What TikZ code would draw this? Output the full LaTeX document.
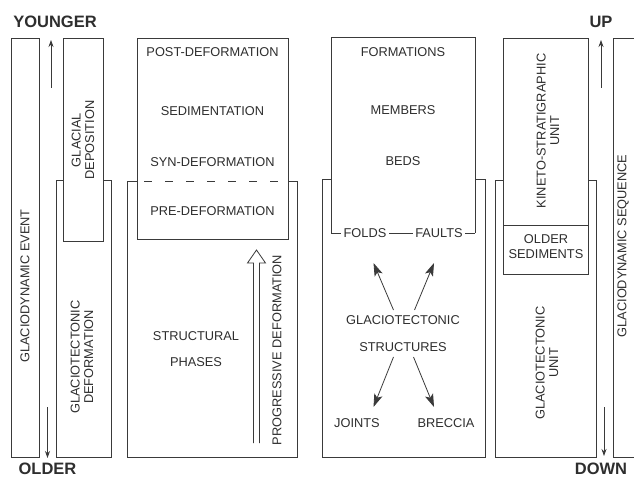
\documentclass[tikz,border=0pt]{standalone}
\usepackage{fontspec}
\setmainfont{Liberation Sans}
\usetikzlibrary{arrows.meta}
\definecolor{ink}{HTML}{2E2E2E}
\definecolor{linecol}{HTML}{3A3A3A}
\begin{document}
\begin{tikzpicture}[x=1pt,y=-1pt,
  lbl/.style={font=\fontsize{12.8}{13.5}\selectfont, text=ink, inner sep=1pt, align=center},
  vlbl/.style={lbl, rotate=90},
  head/.style={font=\fontsize{16.5}{18}\selectfont\bfseries, text=ink, inner sep=0pt},
  box/.style={draw=linecol, line width=0.9pt},
  thinarrow/.style={draw=linecol, line width=0.8pt, -{Stealth[length=7pt,width=5pt]}},
  bigarrow/.style={draw=linecol, line width=0.8pt, -{Stealth[length=13pt,width=8.5pt,inset=3pt]}}]
\useasboundingbox (0,0) rectangle (634,478);
\fill[white] (0,0) rectangle (634,478);

% ---------- time axis (left) ----------
\node[head] (younger) at (55,22) {YOUNGER};
\node[head] (older) at (47.5,469) {OLDER};
\coordinate (ytail) at (51,88);  \coordinate (ytip) at (51,40);
\coordinate (otail) at (47.5,407); \coordinate (otip) at (47.5,458);
\draw[thinarrow] (ytail) -- (ytip);
\draw[thinarrow] (otail) -- (otip);

\draw[box] (11,38) rectangle (39,457);
\node[vlbl] (event) at (25,286) {GLACIODYNAMIC EVENT};

\draw[box] (56,180) rectangle (111,457);
\filldraw[box, fill=white] (63,38) rectangle (103,241);
\node[vlbl] (deposition) at (83,140) {GLACIAL\\DEPOSITION};
\node[vlbl] (deformation) at (82,357) {GLACIOTECTONIC\\DEFORMATION};

% ---------- deformation phases ----------
\draw[box] (127,181) rectangle (297,457);
\filldraw[box, fill=white] (137,38) rectangle (288,239);
\draw[box] (127,181) -- (137,181);
\draw[box] (288,181) -- (297,181);
\draw[draw=linecol, line width=0.9pt, dash pattern=on 8pt off 13pt] (144,181) -- (278,181);
\node[lbl] (post) at (212.5,52) {POST-DEFORMATION};
\node[lbl] (sed) at (212.5,111) {SEDIMENTATION};
\node[lbl] (syn) at (212.5,162) {SYN-DEFORMATION};
\node[lbl] (pre) at (212.5,211) {PRE-DEFORMATION};
\node[lbl] (structural) at (196,336) {STRUCTURAL};
\node[lbl] (phases) at (196,362) {PHASES};
% hollow arrow
\draw[draw=linecol, line width=0.8pt, line join=miter]
  (253.5,443) -- (253.5,263) -- (247.5,263) -- (256.5,250) -- (265.5,263) -- (259.5,263) -- (259.5,443);
\node[vlbl] (progressive) at (277,350) {PROGRESSIVE DEFORMATION};

% ---------- stratigraphy and structures ----------
\draw[box] (322,179) rectangle (485,457);
\fill[white] (331,37) rectangle (475,233);
\draw[box] (331,233) -- (331,37) -- (475,37) -- (475,233);
\node[lbl] (formations) at (403,52) {FORMATIONS};
\node[lbl] (members) at (403,110) {MEMBERS};
\node[lbl] (beds) at (403,161) {BEDS};
\node[lbl, inner sep=2.5pt] (folds) at (365,233) {FOLDS};
\node[lbl, inner sep=2.5pt] (faults) at (439,233) {FAULTS};
\draw[box] (331,233) -- (folds.west);
\draw[box] (folds.east) -- (faults.west);
\draw[box] (faults.east) -- (475,233);
\node[lbl] (glacio) at (403,320) {GLACIOTECTONIC};
\node[lbl] (structures) at (403,347) {STRUCTURES};
\node[lbl] (joints) at (357,423) {JOINTS};
\node[lbl] (breccia) at (446,423) {BRECCIA};
\coordinate (ulT) at (393.5,310); \coordinate (ulH) at (373.5,263);
\coordinate (urT) at (414.5,310); \coordinate (urH) at (434,263);
\coordinate (llT) at (393.5,357); \coordinate (llH) at (373.5,407);
\coordinate (lrT) at (413.5,357); \coordinate (lrH) at (434,407);
\draw[bigarrow] (ulT) -- (ulH);
\draw[bigarrow] (urT) -- (urH);
\draw[bigarrow] (llT) -- (llH);
\draw[bigarrow] (lrT) -- (lrH);

% ---------- units (right) ----------
\draw[box] (495,180) rectangle (596,457);
\filldraw[box, fill=white] (503,38) rectangle (588,274);
\draw[box] (503,225) -- (588,225);
\node[vlbl] (kineto) at (548,131) {KINETO-STRATIGRAPHIC\\UNIT};
\node[lbl, font=\fontsize{12.8}{15}\selectfont] (oldsed) at (546,247) {OLDER\\SEDIMENTS};
\node[vlbl] (gtunit) at (547,363) {GLACIOTECTONIC\\UNIT};

\node[head] (up) at (601,22) {UP};
\node[head] (down) at (601,469) {DOWN};
\coordinate (utail) at (601,88); \coordinate (utip) at (601,40);
\coordinate (dtail) at (604,407); \coordinate (dtip) at (604,456);
\draw[thinarrow] (utail) -- (utip);
\draw[thinarrow] (dtail) -- (dtip);

\draw[box] (613,38) rectangle (650,457);
\node[vlbl] (sequence) at (623,246) {GLACIODYNAMIC SEQUENCE};
\end{tikzpicture}
\end{document}
